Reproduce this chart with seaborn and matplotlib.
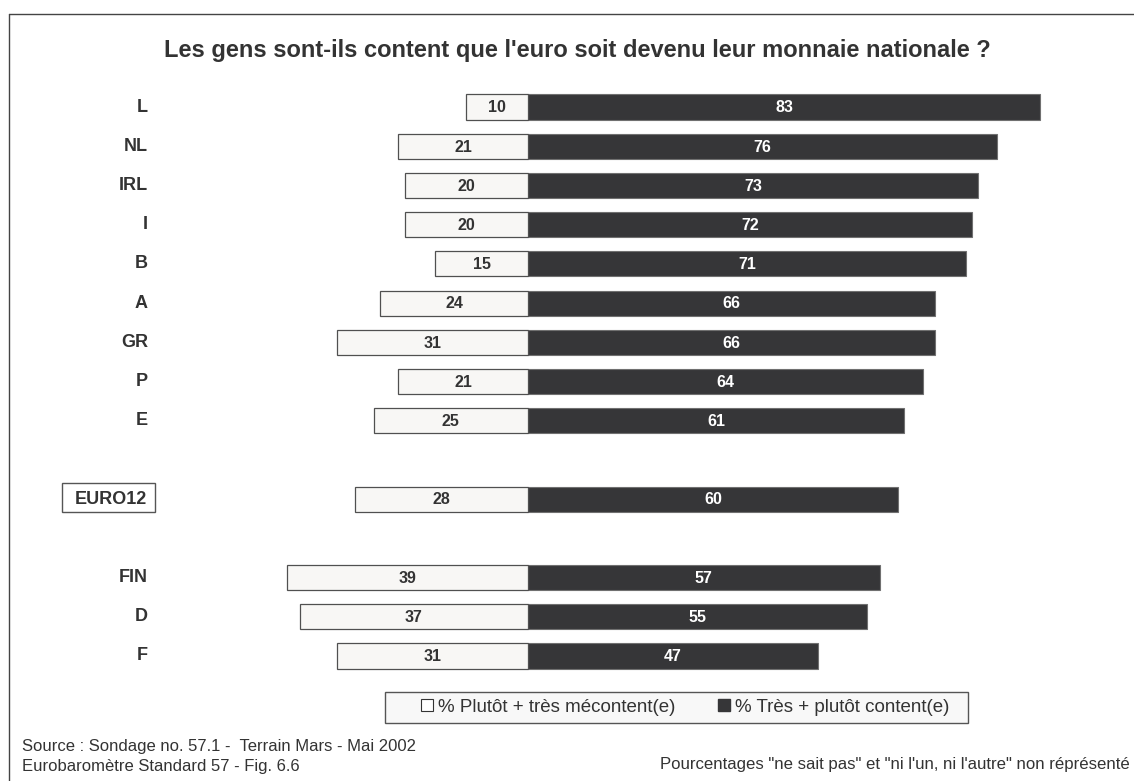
import matplotlib
matplotlib.use("Agg")
import matplotlib.pyplot as plt
import seaborn as sns
import pandas as pd
from matplotlib.lines import Line2D
from matplotlib.patches import Rectangle, Patch

countries = ["L", "NL", "IRL", "I", "B", "A", "GR", "P", "E", "EURO12", "FIN", "D", "F"]
mecontent = [10, 21, 20, 20, 15, 24, 31, 21, 25, 28, 39, 37, 31]
content = [83, 76, 73, 72, 71, 66, 66, 64, 61, 60, 57, 55, 47]
legend_labels = ["% Plutôt + très mécontent(e)", "% Très + plutôt content(e)"]
title = "Les gens sont-ils content que l'euro soit devenu leur monnaie nationale ?"
source1 = "Source : Sondage no. 57.1 -  Terrain Mars - Mai 2002"
source2 = "Eurobaromètre Standard 57 - Fig. 6.6"
note = "Pourcentages \"ne sait pas\" et \"ni l'un, ni l'autre\" non réprésenté"

sns.set_theme(style="white")
plt.rcParams["font.family"] = ["Liberation Sans", "DejaVu Sans"]

W, H = 1134, 781
fig = plt.figure(figsize=(W / 100, H / 100), dpi=100)

# layout in pixels
zero_px, px_per = 528, 6.17
row0_px, row_sp = 107, 39.21
ax_l, ax_r, ax_t, ax_b = 200, 1100, 80, 690
ax = fig.add_axes([ax_l / W, 1 - ax_b / H, (ax_r - ax_l) / W, (ax_b - ax_t) / H])

# positions with gaps around EURO12
pos = []
for i, c in enumerate(countries):
    pos.append(i + (1 if i >= 9 else 0) + (1 if i >= 10 else 0))

df = pd.DataFrame({"country": countries, "pos": pos,
                   "mec": [-v for v in mecontent], "con": content})

dark = "#363638"
light = "#f8f7f5"
sns.barplot(data=df, x="con", y="pos", orient="y", native_scale=True,
            color=dark, edgecolor="#707070", linewidth=0.8, width=0.64,
            saturation=1, ax=ax)
sns.barplot(data=df, x="mec", y="pos", orient="y", native_scale=True,
            color=light, edgecolor="#505050", linewidth=0.9, width=0.64,
            saturation=1, ax=ax)
if ax.get_legend() is not None:
    ax.get_legend().remove()

ax.set_xlim(-(zero_px - ax_l) / px_per, (ax_r - zero_px) / px_per)
ax.set_ylim(14 + (ax_b - 656) / row_sp, -(row0_px - ax_t) / row_sp)
ax.axis("off")

txt = "#333333"
for p, m, c in zip(pos, mecontent, content):
    ax.text(-m / 2, p + 0.02, str(m), ha="center", va="center", fontsize=11.5,
            fontweight="bold", color=txt)
    ax.text(c / 2, p + 0.02, str(c), ha="center", va="center", fontsize=11.5,
            fontweight="bold", color="white")

# country labels
for p, name in zip(pos, countries):
    y_px = row0_px + p * row_sp
    if name == "EURO12":
        fig.text(111 / W, 1 - y_px / H, name, ha="center", va="center",
                 fontsize=13, fontweight="bold", color=txt)
        fig.add_artist(Rectangle((62 / W, 1 - 512 / H), 93 / W, 29 / H,
                                 fill=False, edgecolor="#555555", linewidth=1.0,
                                 transform=fig.transFigure))
    else:
        fig.text(148 / W, 1 - y_px / H, name, ha="right", va="center",
                 fontsize=13, fontweight="bold", color=txt)

fig.text(577 / W, 1 - 50 / H, title, ha="center", va="center",
         fontsize=17, fontweight="bold", color=txt)

# outer frame (top and left)
fig.add_artist(Line2D([9 / W, 9 / W], [0, 1 - 14 / H], color="#444444",
                      linewidth=1.0, transform=fig.transFigure))
fig.add_artist(Line2D([9 / W, 1], [1 - 14 / H, 1 - 14 / H], color="#444444",
                      linewidth=1.0, transform=fig.transFigure))

# legend box
fig.add_artist(Rectangle((385 / W, 1 - 723 / H), 583 / W, 31 / H,
                         facecolor="#f8f8f8", edgecolor="#555555", linewidth=1.0,
                         transform=fig.transFigure, zorder=1))
handles = [Patch(facecolor="white", edgecolor="#333333", linewidth=0.8),
           Patch(facecolor=dark, edgecolor=dark)]
leg = fig.legend(handles, legend_labels, loc="center",
                 bbox_to_anchor=(685 / W, 1 - 707 / H), ncol=2,
                 fontsize=13.5, frameon=False,
                 handlelength=0.65, handleheight=0.65, handletextpad=0.25,
                 columnspacing=2.3, borderpad=0.3, borderaxespad=0,
                 labelcolor=txt)
leg.set_zorder(3)

fig.text(22 / W, 1 - 747 / H, source1, ha="left", va="center", fontsize=12, color=txt)
fig.text(22 / W, 1 - 767 / H, source2, ha="left", va="center", fontsize=12, color=txt)
fig.text(1130 / W, 1 - 765 / H, note, ha="right", va="center", fontsize=12.1, color=txt)

fig.savefig("out.png", dpi=100)
